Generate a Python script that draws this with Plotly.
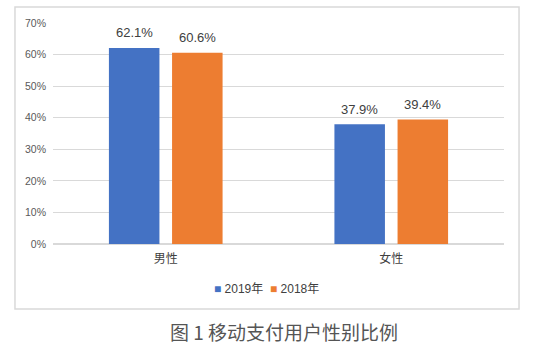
import plotly.graph_objects as go

categories = ["男性", "女性"]
series_names = ["2019年", "2018年"]
values_2019 = [62.1, 37.9]
values_2018 = [60.6, 39.4]
colors = ["#4472C4", "#ED7D31"]
y_ticks = [0, 10, 20, 30, 40, 50, 60, 70]
y_tick_labels = [f"{v}%" for v in y_ticks]
caption = "图 1 移动支付用户性别比例"

font_family = "Liberation Sans, Noto Sans CJK SC, sans-serif"

fig = go.Figure()
annotations = []
offsets = [-31.5, 31.5]
for name, vals, col, off in zip(series_names, [values_2019, values_2018], colors, offsets):
    fig.add_trace(go.Bar(
        x=categories, y=vals, name=name,
        marker=dict(color=col, line=dict(width=0)),
        showlegend=False,
    ))
    for c, v in zip(categories, vals):
        annotations.append(dict(
            x=c, y=v, xref="x", yref="y", text=f"{v:.1f}%", showarrow=False,
            xshift=off, yshift=15, xanchor="center", yanchor="middle",
            font=dict(size=13, color="#404040", family=font_family)))

legend_text = "  ".join(
    f"<span style='color:{c}'>■</span> {n}" for n, c in zip(series_names, colors))
annotations.append(dict(text=legend_text, xref="paper", yref="paper", x=0.474, y=-0.204,
                        showarrow=False, xanchor="center", yanchor="middle",
                        font=dict(size=12, color="#404040", family=font_family)))
annotations.append(dict(text=caption, xref="paper", yref="paper", x=0.513, y=-0.397,
                        showarrow=False, xanchor="center", yanchor="middle",
                        font=dict(size=19, color="#555555", family="Noto Sans CJK SC, sans-serif")))

fig.update_layout(
    width=550, height=352,
    margin=dict(l=53, r=46, t=23, b=108),
    paper_bgcolor="white", plot_bgcolor="white",
    barmode="group", bargap=0.44, bargroupgap=0.2,
    font=dict(family=font_family, color="#595959"),
    showlegend=False,
    xaxis=dict(showline=False, ticks="", tickfont=dict(size=12, color="#404040"),
               ticklabelstandoff=6),
    yaxis=dict(range=[0, 70], tickvals=y_ticks, ticktext=y_tick_labels,
               showgrid=True, gridcolor="#D9D9D9", gridwidth=1, zeroline=True,
               zerolinecolor="#D9D9D9", ticks="", tickfont=dict(size=10.5, color="#595959"),
               ticklabelstandoff=6),
    shapes=[dict(type="rect", xref="paper", yref="paper",
                 x0=-0.0843, x1=1.0333, y0=-0.294, y1=1.0724,
                 line=dict(color="#D9D9D9", width=1.5), fillcolor="rgba(0,0,0,0)", layer="below")],
    annotations=annotations,
)

fig.write_html("out.html")
